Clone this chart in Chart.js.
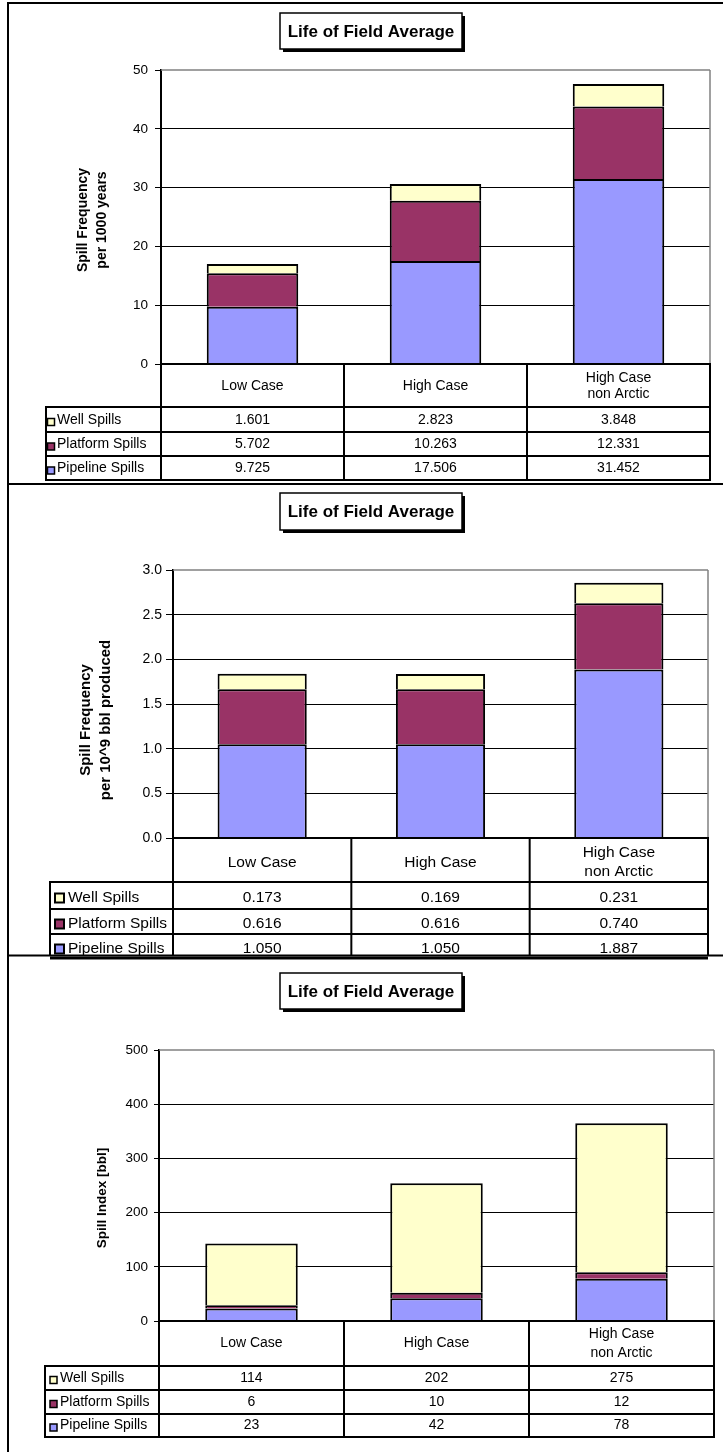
<!DOCTYPE html>
<html><head><meta charset="utf-8">
<script src="https://cdn.jsdelivr.net/npm/chart.js@4.4.1/dist/chart.umd.min.js"></script>
<style>
html,body{margin:0;padding:0;background:#fff;}
#wrap{position:relative;width:723px;height:1452px;overflow:hidden;background:#fff;}
canvas{position:absolute;left:0;}
</style></head><body>
<div id="wrap">
<canvas id="c1" width="723" height="486" style="top:0px"></canvas>
<canvas id="c2" width="723" height="471" style="top:484px"></canvas>
<canvas id="c3" width="723" height="498" style="top:954px"></canvas>
</div>
<script>
// ---------- data ----------
const chartTitle = 'Life of Field Average';
const categories = ['Low Case', 'High Case', ['High Case', 'non Arctic']];
const seriesNames = ['Pipeline Spills', 'Platform Spills', 'Well Spills'];

const pipeline1 = [9.725, 17.506, 31.452];
const platform1 = [5.702, 10.263, 12.331];
const well1     = [1.601, 2.823, 3.848];
const yTicks1   = [0, 10, 20, 30, 40, 50];
const yTitle1   = ['Spill Frequency', 'per 1000 years'];

const pipeline2 = [1.050, 1.050, 1.887];
const platform2 = [0.616, 0.616, 0.740];
const well2     = [0.173, 0.169, 0.231];
const yTicks2   = [0, 0.5, 1.0, 1.5, 2.0, 2.5, 3.0];
const yTitle2   = ['Spill Frequency', 'per 10^9 bbl produced'];

const pipeline3 = [23, 42, 78];
const platform3 = [6, 10, 12];
const well3     = [114, 202, 275];
const yTicks3   = [0, 100, 200, 300, 400, 500];
const yTitle3   = ['Spill Index [bbl]'];

const colors = ['#9999FF', '#993366', '#FFFFCC'];
const FONT = '"Liberation Sans", Arial, Helvetica, sans-serif';
Chart.defaults.font.family = FONT;

// ---------- drawing plugin for table, title box, borders ----------
function seg(ctx, x1, y1, x2, y2, w, c) {
  ctx.strokeStyle = c || '#000'; ctx.lineWidth = w;
  ctx.beginPath(); ctx.moveTo(x1, y1); ctx.lineTo(x2, y2); ctx.stroke();
}
const panelPlugin = {
  id: 'panel',
  afterDraw(chart, args, o) {
    const ctx = chart.ctx, ca = chart.chartArea, xs = chart.scales.x;
    ctx.save();
    // plot area border (grey top & right)
    seg(ctx, ca.left, ca.top, ca.right, ca.top, 1.5, '#808080');
    seg(ctx, ca.right, ca.top, ca.right, ca.bottom, 1.5, '#808080');
    // category boundaries
    const n = chart.data.labels.length;
    const bounds = [ca.left];
    for (let i = 1; i < n; i++) bounds.push((xs.getPixelForValue(i - 1) + xs.getPixelForValue(i)) / 2);
    bounds.push(ca.right);
    const top = ca.bottom, hb = o.headerBottom, rb = o.rowBottoms, last = rb[rb.length - 1];
    const lw = o.tableLine;
    seg(ctx, ca.left - 1, top, ca.right + 1, top, lw);
    seg(ctx, o.rowLeft - 1, hb, ca.right + 1, hb, lw);
    rb.forEach(y => seg(ctx, o.rowLeft - 1, y, ca.right + 1, y, lw));
    bounds.forEach(x => seg(ctx, x, top - 1, x, last + 1, lw));
    seg(ctx, o.rowLeft, hb - 1, o.rowLeft, last + 1, lw);
    // header labels
    ctx.fillStyle = '#000';
    ctx.font = o.fontSize + 'px ' + FONT;
    ctx.textAlign = 'center'; ctx.textBaseline = 'middle';
    chart.data.labels.forEach((lab, i) => {
      const cx = xs.getPixelForValue(i);
      const lines = Array.isArray(lab) ? lab : [lab];
      const cy = (top + hb) / 2 + o.textDy;
      lines.forEach((t, k) => ctx.fillText(t, cx, cy + (k - (lines.length - 1) / 2) * o.headLine));
    });
    // data rows (top series first)
    const ds = chart.data.datasets.slice().reverse();
    ds.forEach((d, r) => {
      const y0 = r === 0 ? hb : rb[r - 1], y1 = rb[r];
      const cy = (y0 + y1) / 2 + o.textDy;
      ctx.fillStyle = '#000'; ctx.textAlign = 'center';
      d.data.forEach((v, i) => ctx.fillText(v.toFixed(o.decimals), xs.getPixelForValue(i), cy));
      const m = o.marker, my = cy + o.markerDy - m / 2;
      ctx.fillStyle = d.backgroundColor; ctx.fillRect(o.markerX, my, m, m);
      ctx.strokeStyle = '#000'; ctx.lineWidth = o.markerLine; ctx.strokeRect(o.markerX, my, m, m);
      ctx.fillStyle = '#000'; ctx.textAlign = 'left';
      ctx.fillText(d.label, o.labelX, cy);
    });
    // title box
    const tb = o.titleBox;
    ctx.fillStyle = '#000'; ctx.fillRect(tb.x + 3, tb.y + 3, tb.w, tb.h);
    ctx.fillStyle = '#fff'; ctx.fillRect(tb.x, tb.y, tb.w, tb.h);
    ctx.strokeStyle = '#000'; ctx.lineWidth = 1.5; ctx.strokeRect(tb.x, tb.y, tb.w, tb.h);
    ctx.fillStyle = '#000'; ctx.font = 'bold ' + o.titleSize + 'px ' + FONT;
    ctx.textAlign = 'center'; ctx.textBaseline = 'middle';
    ctx.fillText(o.title, tb.x + tb.w / 2, tb.y + tb.h / 2 + 1);
    // y-axis title
    ctx.font = 'bold ' + o.yTitleSize + 'px ' + FONT;
    o.yTitle.forEach((t, k) => {
      ctx.save();
      ctx.translate(o.yTitleX[k], o.yTitleY);
      ctx.rotate(-Math.PI / 2);
      ctx.fillText(t, 0, 0);
      ctx.restore();
    });
    // panel borders
    o.borders.forEach(b => seg(ctx, b[0], b[1], b[2], b[3], b[4]));
    ctx.restore();
  }
};

function makeChart(id, data, ticks, decimals, geo, panel) {
  const max = ticks[ticks.length - 1];
  return new Chart(document.getElementById(id), {
    type: 'bar',
    data: {
      labels: categories,
      datasets: data.map((arr, i) => ({
        label: seriesNames[i], data: arr, backgroundColor: colors[i],
        borderColor: '#000', borderWidth: 2, borderSkipped: 'start',
        barPercentage: 1, categoryPercentage: 0.5
      }))
    },
    options: {
      responsive: false, animation: false, devicePixelRatio: 1,
      layout: { padding: { left: 0, right: geo.right, top: geo.top, bottom: geo.bottom } },
      plugins: { legend: { display: false }, tooltip: { enabled: false }, title: { display: false }, panel: panel },
      scales: {
        x: { stacked: true, display: false },
        y: {
          stacked: true, min: 0, max: max,
          afterFit: s => { s.width = geo.axisX; },
          afterBuildTicks: s => { s.ticks = ticks.map(v => ({ value: v })); },
          ticks: { color: '#000', font: { size: geo.tickSize }, padding: geo.tickPad,
                   callback: v => Number(v).toFixed(decimals) },
          grid: { color: c => (c.tick && c.tick.value === max) ? 'rgba(0,0,0,0)' : '#000',
                  lineWidth: 1, tickColor: '#000', tickLength: geo.tickLen, drawTicks: true },
          border: { display: true, color: '#000', width: 2 }
        }
      }
    },
    plugins: [panelPlugin]
  });
}

makeChart('c1', [pipeline1, platform1, well1], yTicks1, 0,
  { axisX: 161, right: 13, top: 70, bottom: 486 - 364, tickSize: 13.5, tickPad: 7, tickLen: 6 },
  { title: chartTitle, titleSize: 17, titleBox: { x: 280, y: 13, w: 182, h: 36 },
    yTitle: yTitle1, yTitleSize: 14, yTitleX: [83, 102], yTitleY: 220,
    headerBottom: 407, rowBottoms: [432, 456, 480], rowLeft: 46, tableLine: 2,
    fontSize: 14, headLine: 16.5, textDy: 0.5, decimals: 3,
    marker: 7, markerX: 47.5, markerDy: 2, markerLine: 1.5, labelX: 57,
    borders: [[8, 3, 8, 485, 2], [7, 3, 723, 3, 2], [7, 484, 723, 484, 2]] });

makeChart('c2', [pipeline2, platform2, well2], yTicks2, 1,
  { axisX: 173, right: 15, top: 86, bottom: 471 - 354, tickSize: 14, tickPad: 4, tickLen: 7 },
  { title: chartTitle, titleSize: 17, titleBox: { x: 280, y: 9, w: 182, h: 37 },
    yTitle: yTitle2, yTitleSize: 15, yTitleX: [86, 106], yTitleY: 236,
    headerBottom: 398, rowBottoms: [425, 450, 475], rowLeft: 50, tableLine: 2,
    fontSize: 15.5, headLine: 19, textDy: 2.5, decimals: 3,
    marker: 9, markerX: 55, markerDy: 0, markerLine: 2, labelX: 68,
    borders: [[8, 0, 8, 471, 2]] });

makeChart('c3', [pipeline3, platform3, well3], yTicks3, 0,
  { axisX: 159, right: 9, top: 96, bottom: 498 - 367, tickSize: 13.5, tickPad: 6, tickLen: 5 },
  { title: chartTitle, titleSize: 17, titleBox: { x: 280, y: 19, w: 182, h: 36 },
    yTitle: yTitle3, yTitleSize: 13.5, yTitleX: [102], yTitleY: 244,
    headerBottom: 412, rowBottoms: [436, 460, 483], rowLeft: 45, tableLine: 2,
    fontSize: 14, headLine: 19, textDy: 0, decimals: 0,
    marker: 7, markerX: 50, markerDy: 2, markerLine: 1.5, labelX: 60,
    borders: [[7, 1.5, 723, 1.5, 2], [50, 4, 708, 4, 3], [8, 0, 8, 498, 2]] });
</script>
</body></html>
